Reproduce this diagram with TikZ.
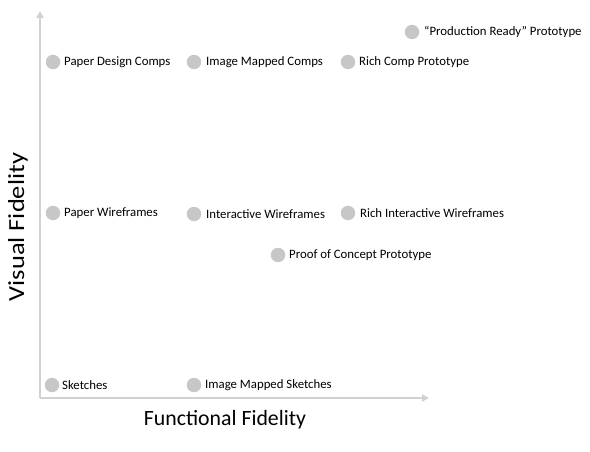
\documentclass[tikz,border=0pt]{standalone}
\usepackage{fontspec}
\setmainfont{Carlito}
\usetikzlibrary{arrows.meta}
\begin{document}
\begin{tikzpicture}[x=1pt,y=-1pt,
  axis/.style={draw=black!18, line width=2.6pt, -{Triangle[length=7pt,width=7pt]}},
  dot/.style={circle, fill=black!22, minimum size=14.5pt, inner sep=0pt},
  lbl/.style={anchor=west, inner sep=0pt, font=\fontsize{12.8}{15}\selectfont},
  ttl/.style={font=\fontsize{21.8}{25}\selectfont, inner sep=0pt}]
\useasboundingbox (0,0) rectangle (590,452);
\coordinate (o) at (40,398);
\coordinate (ytip) at (40,11);
\coordinate (xtip) at (429,398);
\draw[axis] (o) -- (ytip);
\draw[axis] (o) -- (xtip);
\node[ttl] (xt) at (225,420) {Functional Fidelity};
\node[ttl, font=\fontsize{23}{27}\selectfont, rotate=90, xscale=1.15] (yt) at (18,227) {Visual Fidelity};
% items
\node[dot] (d1) at (53,62) {};
\node[lbl] (t1) at (64,62) {Paper Design Comps};
\node[dot] (d2) at (194,62) {};
\node[lbl] (t2) at (206,62) {Image Mapped Comps};
\node[dot] (d3) at (348,62) {};
\node[lbl] (t3) at (359,62) {Rich Comp Prototype};
\node[dot] (d4) at (412,32) {};
\node[lbl] (t4) at (424,32) {“Production Ready” Prototype};
\node[dot] (d5) at (53,213) {};
\node[lbl] (t5) at (64,213) {Paper Wireframes};
\node[dot] (d6) at (194,214) {};
\node[lbl] (t6) at (206,214) {Interactive Wireframes};
\node[dot] (d7) at (348,213) {};
\node[lbl] (t7) at (360,213) {Rich Interactive Wireframes};
\node[dot] (d8) at (278,255) {};
\node[lbl] (t8) at (289,255) {Proof of Concept Prototype};
\node[dot] (d9) at (52,385) {};
\node[lbl] (t9) at (62,385) {Sketches};
\node[dot] (d10) at (194,385) {};
\node[lbl] (t10) at (205,385) {Image Mapped Sketches};
\end{tikzpicture}
\end{document}
